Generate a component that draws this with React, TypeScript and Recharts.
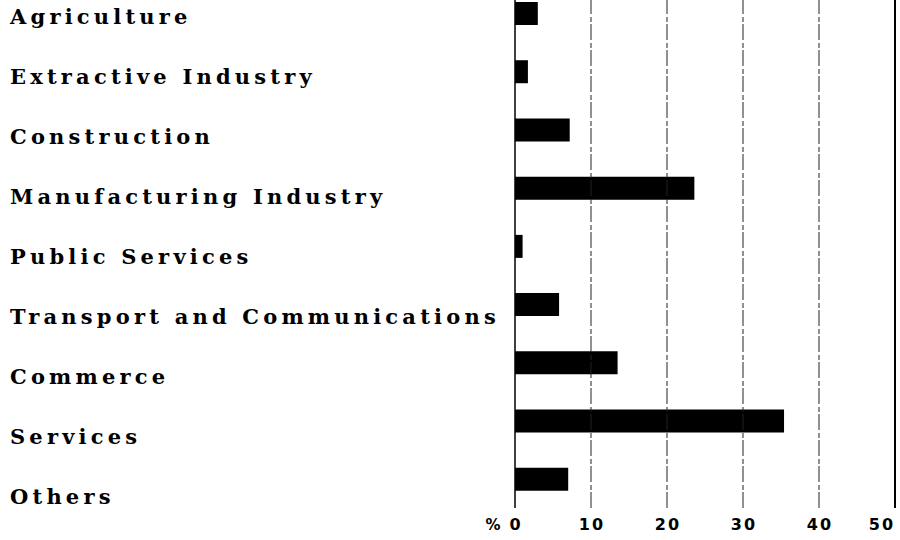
import { BarChart, Bar, XAxis, YAxis, ReferenceLine } from 'recharts';

const sectors = [
  'Agriculture',
  'Extractive Industry',
  'Construction',
  'Manufacturing Industry',
  'Public Services',
  'Transport and Communications',
  'Commerce',
  'Services',
  'Others',
];
const shares = [3.0, 1.7, 7.2, 23.6, 1.0, 5.8, 13.5, 35.4, 7.0];
const xTicks = [0, 10, 20, 30, 40, 50];

const data = sectors.map((name, i) => ({ name, share: shares[i] }));

function SectorTick({ y, payload, index }: any) {
  // labels sit a little below the bar centres in the original
  return (
    <text
      x={10}
      y={y + 4 + index * 1.75}
      dy="0.35em"
      textAnchor="start"
      fontFamily="'DejaVu Serif', serif"
      fontWeight="bold"
      fontSize={21}
      letterSpacing={4.2}
      fill="#000"
    >
      {payload.value}
    </text>
  );
}

function PctTick({ x, y, payload, index }: any) {
  const last = index === xTicks.length - 1;
  return (
    <g>
      {index === 0 && (
        <text x={x - 22} y={y + 14} textAnchor="middle" fontFamily="'DejaVu Sans', sans-serif" fontWeight="bold" fontSize={15} fill="#000">
          %
        </text>
      )}
      <text x={last ? x - 10 : x + 1} y={y + 14} textAnchor="middle" fontFamily="'DejaVu Sans', sans-serif" fontWeight="bold" fontSize={16} letterSpacing={2} fill="#000">
        {payload.value}
      </text>
    </g>
  );
}

export default function App() {
  return (
    <div style={{ position: 'absolute', left: 0, top: -16, width: 900, height: 556, background: '#fff' }}>
      <BarChart
        width={900}
        height={556}
        data={data}
        layout="vertical"
        margin={{ top: 0, right: 5, bottom: 0, left: 0 }}
        barCategoryGap={0}
      >
        <XAxis
          type="number"
          domain={[0, 50]}
          ticks={xTicks}
          axisLine={false}
          tickLine={false}
          height={32}
          tick={<PctTick />}
        />
        <YAxis
          type="category"
          dataKey="name"
          width={515}
          axisLine={{ stroke: '#000', strokeWidth: 1.5 }}
          tickLine={false}
          tick={<SectorTick />}
        />
        {xTicks.slice(1, -1).map(v => (
          <ReferenceLine key={v} x={v} stroke="#222" strokeWidth={1} strokeDasharray="16 2 5 3" />
        ))}
        <ReferenceLine x={50} stroke="#000" strokeWidth={2} />
        <Bar dataKey="share" fill="#000" barSize={23} isAnimationActive={false} />
      </BarChart>
    </div>
  );
}
